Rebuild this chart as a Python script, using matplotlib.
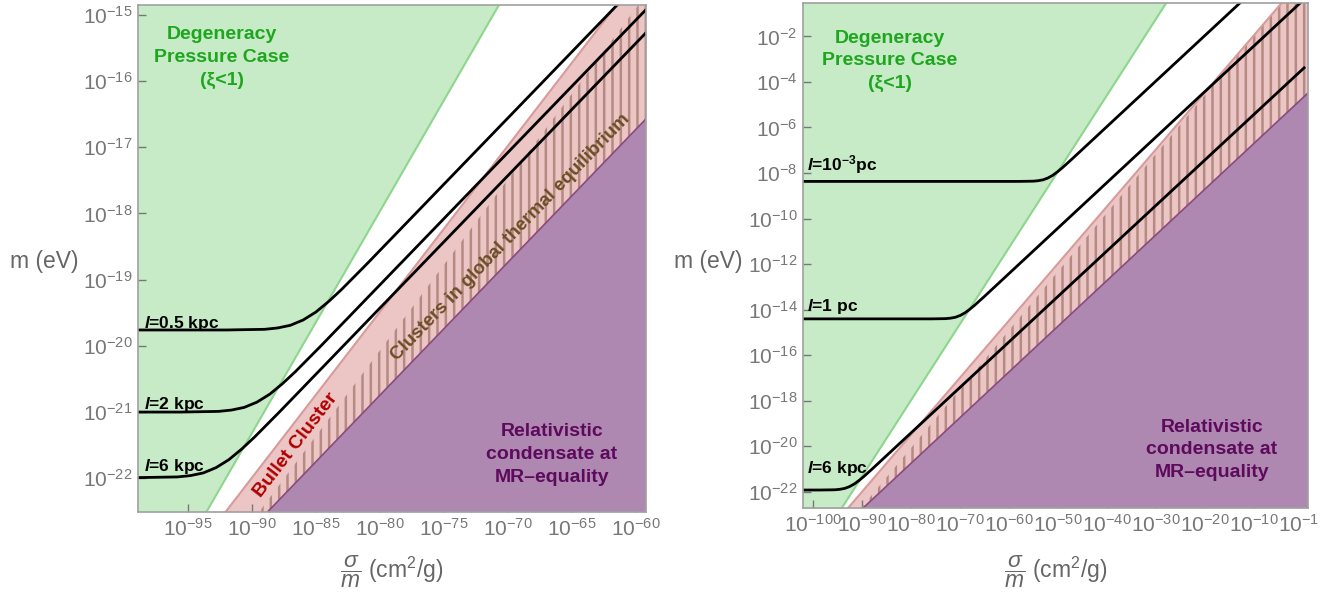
import numpy as np
import matplotlib.pyplot as plt

plt.rcParams['font.family'] = ['Liberation Sans', 'DejaVu Sans']
plt.rcParams['mathtext.fontset'] = 'custom'
plt.rcParams['mathtext.rm'] = 'Liberation Sans'
plt.rcParams['mathtext.it'] = 'Liberation Sans:italic'
plt.rcParams['mathtext.bf'] = 'Liberation Sans:italic:bold'
plt.rcParams['mathtext.sf'] = 'Liberation Sans:bold'
plt.rcParams['hatch.linewidth'] = 1.8

# all values are log10 exponents
# region edges (same physics in both panels)
green_x = [-98.0, -20.4]
green_y = [-24.0, 2.0]
red_x = [-98.0, 5.7]
red_y = [-24.0, 2.0]
hatch_x = [-95.2, -6.2, 5.7]
hatch_y = [-24.0, -1.0, 2.0]
purple_x = [-96.2, 5.0]
purple_y = [-24.0, -3.68]

# left panel curves
l05_x = [-99, -92, -89, -88, -87, -86, -85, -84, -83, -81, -79, -61.4]
l05_y = [-19.76, -19.76, -19.75, -19.73, -19.69, -19.61, -19.49, -19.33, -19.15, -18.76, -18.36, -14.84]
l2_x = [-99, -95.6, -92.6, -91.6, -90.6, -89.6, -88.6, -87.6, -86.6, -84.6, -82.6, -59.2]
l2_y = [-21.0, -21.0, -20.99, -20.97, -20.93, -20.85, -20.73, -20.57, -20.39, -20.0, -19.6, -14.92]
l6_x = [-99, -98.8, -95.8, -94.8, -93.8, -92.8, -91.8, -90.8, -89.8, -87.8, -85.8, -59.2]
l6_y = [-21.99, -21.99, -21.98, -21.96, -21.92, -21.84, -21.72, -21.56, -21.38, -20.99, -20.59, -15.27]

# right panel curves
r3_x = [-103, -58.1, -55.1, -54.1, -53.1, -52.1, -51.1, -50.1, -49.1, -47.1, -45.1, -12.9]
r3_y = [-8.37, -8.37, -8.36, -8.34, -8.30, -8.22, -8.10, -7.94, -7.76, -7.37, -6.97, -0.53]
r1_x = [-103, -76, -73, -72, -71, -70, -69, -68, -67, -65, -63, -0.6]
r1_y = [-14.41, -14.41, -14.40, -14.38, -14.34, -14.26, -14.14, -13.98, -13.80, -13.41, -13.01, -0.53]
r6_x = [-103, -98.6, -95.6, -94.6, -93.6, -92.6, -91.6, -90.6, -89.6, -87.6, -85.6, 0.2]
r6_y = [-21.93, -21.93, -21.92, -21.90, -21.86, -21.78, -21.66, -21.50, -21.32, -20.93, -20.53, -3.38]

gray = '#777777'
c_green = '#c6ebc6'
c_pink = '#ecc5c5'
c_purple = '#ae88b0'


def p(v):
    return 10.0 ** np.array(v, dtype=float)


def regions(ax):
    ax.fill_betweenx(p(green_y), 1e-150, p(green_x), color=c_green, lw=0, zorder=1)
    ax.fill(p(red_x + purple_x[::-1]), p(red_y + purple_y[::-1]), color=c_pink, lw=0, zorder=1)
    ax.fill(p(hatch_x + purple_x[::-1]), p(hatch_y + purple_y[::-1]), facecolor='none',
            edgecolor='#b58a82', hatch='||', lw=0, zorder=2)
    ax.fill(p(purple_x + [purple_x[-1]]), p(purple_y + [purple_y[0]]), color=c_purple, lw=0, zorder=3)
    ax.plot(p(green_x), p(green_y), color='#8ed68e', lw=1.5, zorder=4)
    ax.plot(p(red_x), p(red_y), color='#d99a9a', lw=1.5, zorder=4)
    ax.plot(p(purple_x), p(purple_y), color='#8a4a80', lw=1.2, zorder=4)


def style(ax, xlim, ylim, xt, yt):
    ax.set_xscale('log')
    ax.set_yscale('log')
    ax.set_xlim(10.0 ** xlim[0], 10.0 ** xlim[1])
    ax.set_ylim(10.0 ** ylim[0], 10.0 ** ylim[1])
    ax.set_xticks(p(xt))
    ax.set_xticklabels([rf'$10^{{{e}}}$' for e in xt])
    ax.set_yticks(p(yt))
    ax.set_yticklabels([rf'$10^{{{e}}}$' for e in yt])
    ax.minorticks_off()
    ax.tick_params(direction='in', length=6, width=1, color=gray, labelcolor=gray,
                   labelsize=15, pad=4)
    for s in ax.spines.values():
        s.set_color('#a0a0a0')
        s.set_linewidth(1.2)
        s.set_zorder(6)


fig = plt.figure(figsize=(13.33, 6.07), dpi=100)
ax1 = fig.add_axes([0.1035, 0.1565, 0.3811, 0.8353])
ax2 = fig.add_axes([0.6024, 0.1631, 0.3788, 0.8320])

# left panel
regions(ax1)
for cx, cy in [(l05_x, l05_y), (l2_x, l2_y), (l6_x, l6_y)]:
    ax1.plot(p(cx), p(cy), color='black', lw=2, zorder=5)
style(ax1, (-98.9, -59.2), (-22.51, -14.85), list(range(-95, -59, 5)), list(range(-22, -14)))

ax1.text(0.165, 0.897, 'Degeneracy\nPressure Case\n(ξ<1)', transform=ax1.transAxes,
         ha='center', va='center', color='#1fa61f', fontsize=14, fontweight='bold',
         linespacing=1.45, zorder=7)
for fy, lab in [(0.371, r'$\mathbf{l}$=0.5 kpc'), (0.213, r'$\mathbf{l}$=2 kpc'),
                (0.089, r'$\mathbf{l}$=6 kpc')]:
    ax1.text(0.012, fy, lab, transform=ax1.transAxes, ha='left', va='center',
             fontsize=12.5, fontweight='bold', color='black', zorder=7)
ax1.text(0.311, 0.132, 'Bullet Cluster', transform=ax1.transAxes, ha='center', va='center',
         rotation=52.5, rotation_mode='anchor', color='#b00000', fontsize=14,
         fontweight='bold', zorder=7)
ax1.text(0.734, 0.542, 'Clusters in global thermal equilibrium', transform=ax1.transAxes,
         ha='center', va='center', rotation=46, rotation_mode='anchor', color='#6b4e25',
         fontsize=13.5, fontweight='bold', zorder=7)
ax1.text(0.815, 0.114, 'Relativistic\ncondensate at\nMR\u2013equality', transform=ax1.transAxes,
         ha='center', va='center', color='#5d0a5d', fontsize=14, fontweight='bold',
         linespacing=1.45, zorder=7)

# right panel
regions(ax2)
for cx, cy in [(r3_x, r3_y), (r1_x, r1_y), (r6_x, r6_y)]:
    ax2.plot(p(cx), p(cy), color='black', lw=2, zorder=5)
style(ax2, (-102.1, 0.98), (-22.72, -0.53), list(range(-100, 0, 10)) + [-1],
      list(range(-22, 0, 2)))

ax2.text(0.172, 0.885, 'Degeneracy\nPressure Case\n(ξ<1)', transform=ax2.transAxes,
         ha='center', va='center', color='#1fa61f', fontsize=14, fontweight='bold',
         linespacing=1.45, zorder=7)
for fy, lab in [(0.681, r'$\mathbf{l}$=$\mathsf{10}^{\mathsf{-3}}$pc'), (0.398, r'$\mathbf{l}$=1 pc'),
                (0.079, r'$\mathbf{l}$=6 kpc')]:
    ax2.text(0.008, fy, lab, transform=ax2.transAxes, ha='left', va='center',
             fontsize=12.5, fontweight='bold', color='black', zorder=7)
ax2.text(0.81, 0.115, 'Relativistic\ncondensate at\nMR\u2013equality', transform=ax2.transAxes,
         ha='center', va='center', color='#5d0a5d', fontsize=14, fontweight='bold',
         linespacing=1.45, zorder=7)

# axis labels
for xm, ym in [(44, 262), (708, 262)]:
    fig.text(xm / 1333, 1 - ym / 607, 'm (eV)', ha='center', va='center', color='#666666',
             fontsize=16.5)
for xm in [392, 1056]:
    fig.text(xm / 1333, 1 - 572 / 607, r'$\dfrac{\sigma}{m}$ (cm$^2$/g)', ha='center',
             va='center', color='#666666', fontsize=16.5)

fig.savefig('out.png', dpi=100)
